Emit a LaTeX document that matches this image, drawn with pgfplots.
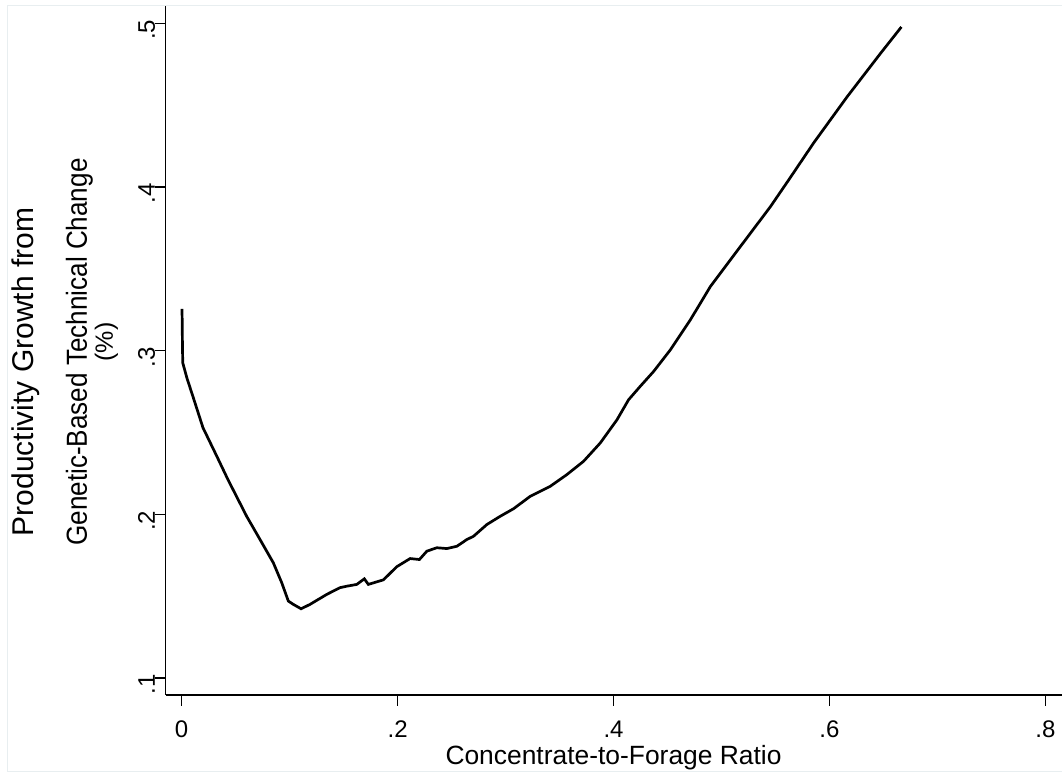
\documentclass[border=0pt]{standalone}
\usepackage{fontspec}
\setmainfont{Liberation Sans}
\usepackage{pgfplots}
\pgfplotsset{compat=1.18}
\definecolor{framegray}{RGB}{232,238,240}

\pgfplotstableread{
x y
0.0003 0.3256
0.0005 0.3180
0.0007 0.3050
0.0010 0.2926
0.0050 0.2830
0.0105 0.2719
0.0197 0.2530
0.0327 0.2353
0.0429 0.2212
0.0602 0.1988
0.0726 0.1846
0.0849 0.1704
0.0927 0.1582
0.0988 0.1470
0.1034 0.1450
0.1106 0.1423
0.1189 0.1450
0.1344 0.1511
0.1466 0.1552
0.1529 0.1561
0.1622 0.1572
0.1692 0.1606
0.1729 0.1572
0.1869 0.1600
0.1992 0.1680
0.2116 0.1730
0.2202 0.1724
0.2271 0.1775
0.2363 0.1796
0.2456 0.1791
0.2549 0.1805
0.2641 0.1846
0.2703 0.1866
0.2827 0.1938
0.2950 0.1988
0.3073 0.2034
0.3228 0.2110
0.3413 0.2171
0.3568 0.2243
0.3722 0.2324
0.3877 0.2436
0.4032 0.2578
0.4139 0.2700
0.4247 0.2782
0.4371 0.2873
0.4526 0.3005
0.4711 0.3188
0.4897 0.3392
0.5082 0.3555
0.5267 0.3717
0.5453 0.3880
0.5622 0.4043
0.5854 0.4270
0.6163 0.4551
0.6472 0.4816
0.6666 0.4978
}\curve

\begin{document}
\begin{tikzpicture}
\begin{axis}[
  scale only axis,
  width=448pt, height=345pt,
  xmin=-0.0148, xmax=0.8151,
  ymin=0.0896, ymax=0.5112,
  axis lines=left,
  axis line style={-, line width=0.6pt},
  tick align=outside,
  major tick length=5.35pt,
  tick style={line width=0.6pt, black},
  xtick={0,0.2,0.4,0.6,0.8},
  xticklabels={0,.2,.4,.6,.8},
  ytick={0.1,0.2,0.3,0.4,0.5},
  yticklabels={.1,.2,.3,.4,.5},
  ticklabel style={font=\fontsize{12}{14}\selectfont},
  xticklabel style={anchor=base, yshift=-15.65pt},
  yticklabel style={rotate=90, anchor=base, xshift=-3.2pt},
  clip=false,
]
  \addplot[black, line width=1.35pt] table[x=x, y=y] {\curve};

  \node[anchor=base, font=\fontsize{13.2}{15}\selectfont]
    at (rel axis cs:0.4998,-0.100) {Concentrate-to-Forage Ratio};
  \node[rotate=90, anchor=base, font=\fontsize{15}{17}\selectfont]
    at (rel axis cs:-0.148,0.468) {Productivity Growth from};
  \node[rotate=90, anchor=base, font=\fontsize{14.5}{16}\selectfont]
    at (rel axis cs:-0.0879,0.497) {\scalebox{0.9}[1]{Genetic-Based Technical Change}};
  \node[rotate=90, anchor=base, font=\fontsize{12.5}{14}\selectfont]
    at (rel axis cs:-0.0588,0.5116) {(\%)};

  \coordinate (bl) at (rel axis cs:-0.1849,-0.1174);
  \coordinate (tr) at (rel axis cs:1.0003,1.00725);
  \draw[framegray, line width=0.5pt]
    (rel axis cs:-0.1760,-0.1112) rectangle (rel axis cs:1.0003,1.0000);
\end{axis}
\pgfresetboundingbox
\path[use as bounding box] (bl) rectangle (tr);
\end{tikzpicture}
\end{document}
